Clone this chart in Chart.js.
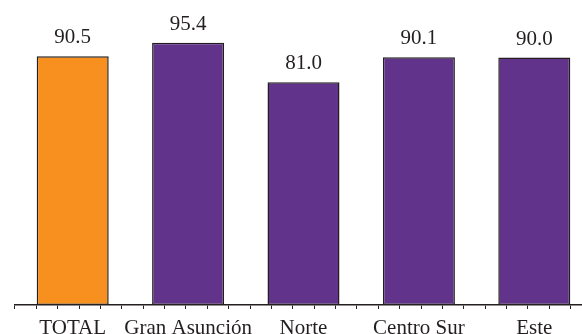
<!DOCTYPE html>
<html>
<head>
<meta charset="utf-8">
<script src="https://cdn.jsdelivr.net/npm/chart.js@4.4.1/dist/chart.umd.min.js"></script>
<style>
  html, body { margin:0; padding:0; background:#fff; overflow:hidden; }
  #wrap { width:592px; height:334px; overflow:hidden; }
</style>
</head>
<body>
<div id="wrap"><canvas id="chart" width="592" height="334"></canvas></div>
<script>
// ==================== Data ====================
const regiones = ["TOTAL", "Gran Asunción", "Norte", "Centro Sur", "Este"];
const valores  = [90.5, 95.4, 81.0, 90.1, 90.0];
const colores  = ["#F7901E", "#62338A", "#62338A", "#62338A", "#62338A"];

const ink = "#231F20";
const serif = "'Liberation Serif', 'DejaVu Serif', serif";

// etiquetas de valor encima de cada barra
const valueLabels = {
  id: "valueLabels",
  afterDatasetsDraw(chart){
    const ctx = chart.ctx;
    const meta = chart.getDatasetMeta(0);
    ctx.save();
    ctx.font = "21px " + serif;
    ctx.fillStyle = ink;
    ctx.textAlign = "center";
    ctx.textBaseline = "bottom";
    meta.data.forEach((bar, i) => {
      ctx.fillText(valores[i].toFixed(1), bar.x, bar.y - 8);
    });
    ctx.restore();
  }
};

new Chart(document.getElementById("chart"), {
  type: "bar",
  data: {
    labels: regiones,
    datasets: [{
      data: valores,
      backgroundColor: colores,
      borderColor: ink,
      borderWidth: 1.5,
      borderSkipped: false,
      barPercentage: 0.624,
      categoryPercentage: 1
    }]
  },
  options: {
    responsive: false,
    animation: false,
    layout: { padding: { left: 15, top: 30, right: 0, bottom: 0 } },
    plugins: { legend: { display: false }, tooltip: { enabled: false } },
    scales: {
      y: { display: false, min: 0, max: 100 },
      x: {
        weight: 1,
        grid: { display: false },
        border: { display: false },
        ticks: { color: ink, font: { family: serif, size: 21 }, padding: -1, maxRotation: 0, autoSkip: false },
        afterFit(scale){ scale.height = 25; }
      },
      x2: {
        // eje secundario solo para las marcas menores bajo la línea base
        type: "linear",
        position: "bottom",
        weight: 0,
        min: 0, max: 26,
        ticks: { display: false, stepSize: 1 },
        grid: { drawOnChartArea: false, drawTicks: true, tickLength: 4, color: ink, lineWidth: 1 },
        border: { display: true, color: ink, width: 1.5 },
        afterFit(scale){ scale.height = 4; }
      }
    }
  },
  plugins: [valueLabels]
});
</script>
</body>
</html>
